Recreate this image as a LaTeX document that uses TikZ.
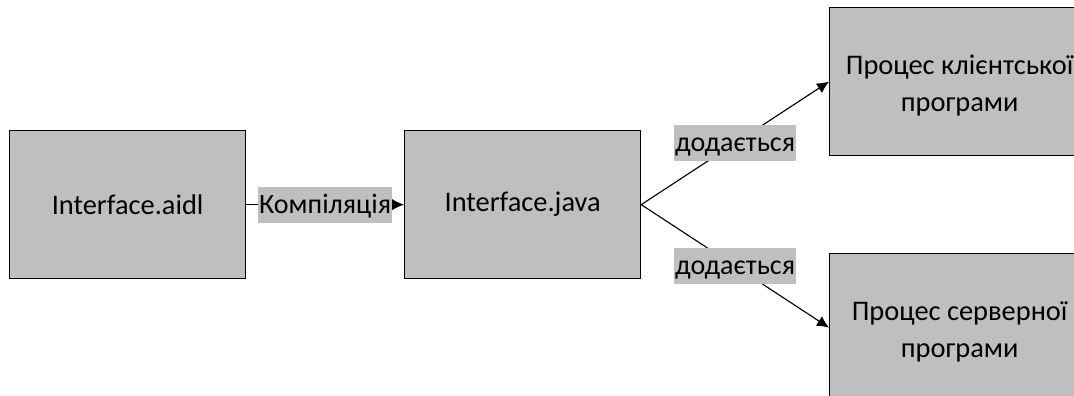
\documentclass[tikz,border=0pt]{standalone}
\usepackage{fontspec}
\setmainfont{Carlito}
\usetikzlibrary{arrows.meta}
\definecolor{boxgray}{HTML}{BFBFBF}
\tikzset{x=0.75pt,y=-0.75pt,
box/.style={draw=black,fill=boxgray,line width=0.95pt,inner sep=0pt,anchor=north west,align=center,font=\fontsize{21.3}{27.75}\selectfont},
twoline/.style={box,text height=47.5pt},
lab/.style={fill=boxgray,inner sep=0.75pt,minimum height=27pt,text height=16pt,text depth=3pt,font=\fontsize{21}{24}\selectfont},
conn/.style={draw=black,line width=0.85pt,-{Latex[length=9pt,width=8.5pt]}}}
\begin{document}
\begin{tikzpicture}
\useasboundingbox[fill=white] (0,0) rectangle (1074,396);
\clip (0,0) rectangle (1074,396);
\node[box,minimum width=177pt,minimum height=111pt] (a) at (9,130) {Interface.aidl};
\node[box,minimum width=177pt,minimum height=111pt] (b) at (404,130) {Interface.java};
\node[twoline,minimum width=195pt,minimum height=111pt] (c) at (829,7) {Процес клієнтської\\програми};
\node[twoline,minimum width=195pt,minimum height=111pt] (d) at (829,253) {Процес серверної\\програми};
\draw[conn] (a.east) -- (b.west) node[lab,midway] (l1) {Компіляція};
\draw[conn] (b.east) -- (c.west) node[lab,midway] (l2) {додається};
\draw[conn] (b.east) -- (d.west) node[lab,midway] (l3) {додається};
\end{tikzpicture}
\end{document}
